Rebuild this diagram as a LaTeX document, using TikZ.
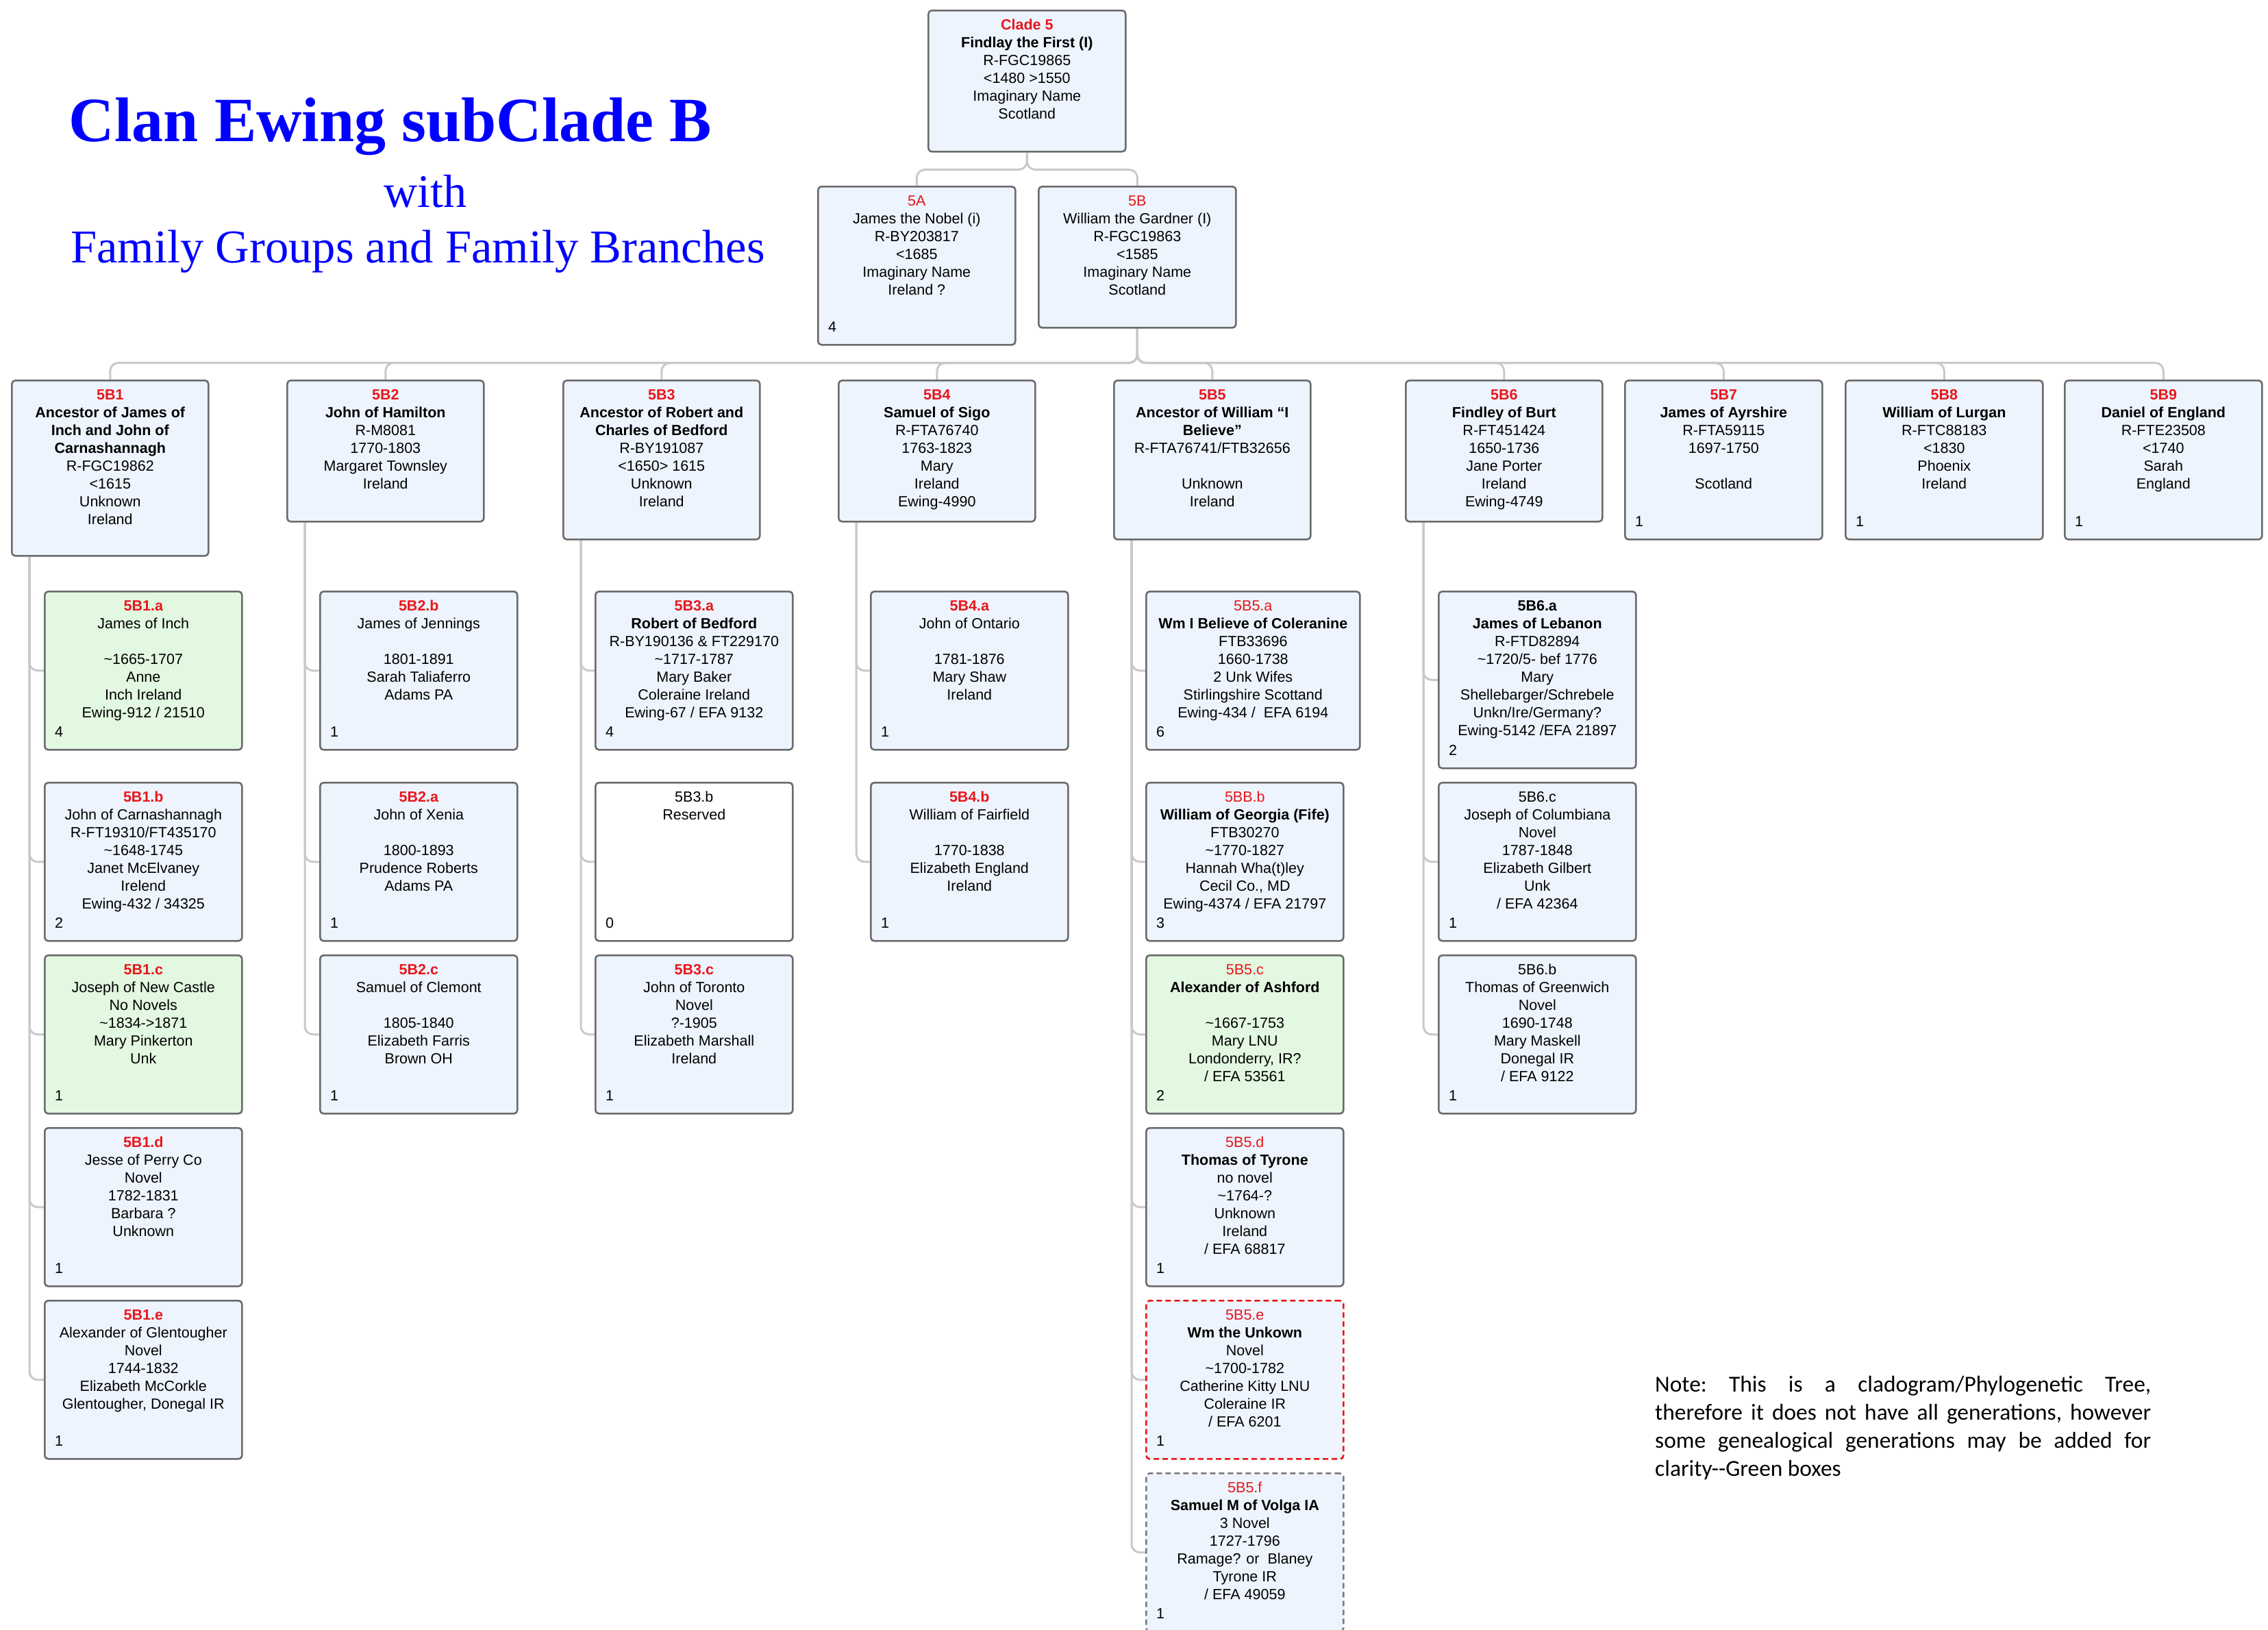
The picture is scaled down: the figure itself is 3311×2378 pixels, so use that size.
\documentclass[tikz,border=0pt]{standalone}
\usepackage{fontspec}
\setmainfont{Liberation Sans}
\newfontfamily\titlefont{Liberation Serif}
\newfontfamily\notefont{Carlito}
\pgfdeclarelayer{bg}
\pgfsetlayers{bg,main}
\definecolor{boxblue}{HTML}{EDF4FE}
\definecolor{boxgreen}{HTML}{E2F8E0}
\definecolor{bordergray}{HTML}{6B6B6B}
\definecolor{conngray}{HTML}{C9C9C9}
\definecolor{labelred}{HTML}{E8161B}
\definecolor{titleblue}{HTML}{0000FF}
\newcommand\bxfont{\fontsize{21.5}{26}\selectfont}
\newcommand\redb[1]{\textcolor{labelred}{\bfseries #1}}
\newcommand\redn[1]{\textcolor{labelred}{#1}}
\newcommand\tld{\textasciitilde}
\tikzset{
  bx/.style={draw=bordergray, line width=2.6pt, fill=boxblue, rounded corners=5pt, inner sep=0pt, anchor=north west},
  gbx/.style={bx, fill=boxgreen},
  wbx/.style={bx, fill=white},
  rdbx/.style={bx, draw=labelred, dash pattern=on 8pt off 5pt},
  gdbx/.style={bx, draw=bordergray!90, dash pattern=on 8pt off 5pt},
  txt/.style={anchor=north, align=center, inner sep=0pt, font=\bxfont},
  cnt/.style={anchor=base west, inner sep=0pt, font=\bxfont},
  conn/.style={draw=conngray, line width=3pt, rounded corners=12pt},
  ttl/.style={anchor=base, inner sep=0pt, text=titleblue},
}
\newcommand\gbox[7]{%
  \node[#2, minimum width=#5pt, minimum height=#6pt] (#1) at (#3,#4) {};
  \node[txt] (#1-t) at ([yshift=-11.5pt]#1.north) {\strut #7};
}
\newcommand\cnum[2]{\node[cnt] (#1-n) at ([xshift=16pt,yshift=20pt]#1.south west) {#2};}
\begin{document}
\begin{tikzpicture}[x=1pt,y=-1pt]
\useasboundingbox (0,0) rectangle (3311,2378);
\clip (0,0) rectangle (3311,2378);

% title
\node[ttl, font=\titlefont\bfseries\fontsize{92}{110}\selectfont] (title) at (570,206) {Clan Ewing subClade B};
\node[ttl, font=\titlefont\fontsize{68}{80}\selectfont] (with) at (621,302) {with};
\node[ttl, font=\titlefont\fontsize{68.6}{80}\selectfont] (sub) at (610,383) {Family Groups and Family Branches};

% top
\gbox{c5}{bx}{1354}{14}{288}{206}{\redb{Clade 5}\\ \textbf{Findlay the First (I)}\\ R-FGC19865\\ <1480 >1550\\ Imaginary Name\\ Scotland}
\gbox{a5}{bx}{1193}{271}{288}{231}{\redn{5A}\\ James the Nobel (i)\\ R-BY203817\\ <1685\\ Imaginary Name\\ Ireland ?}
\cnum{a5}{4}
\gbox{b5}{bx}{1515}{271}{288}{206}{\redn{5B}\\ William the Gardner (I)\\ R-FGC19863\\ <1585\\ Imaginary Name\\ Scotland}

% row 2
\gbox{r1}{bx}{16}{554}{287}{256}{\redb{5B1}\\ \textbf{Ancestor of James of}\\ \textbf{Inch and John of}\\ \textbf{Carnashannagh}\\ R-FGC19862\\ <1615\\ Unknown\\ Ireland}
\gbox{r2}{bx}{418}{554}{287}{206}{\redb{5B2}\\ \textbf{John of Hamilton}\\ R-M8081\\ 1770-1803\\ Margaret Townsley\\ Ireland}
\gbox{r3}{bx}{821}{554}{287}{232}{\redb{5B3}\\ \textbf{Ancestor of Robert and}\\ \textbf{Charles of Bedford}\\ R-BY191087\\ <1650> 1615\\ Unknown\\ Ireland}
\gbox{r4}{bx}{1223}{554}{287}{206}{\redb{5B4}\\ \textbf{Samuel of Sigo}\\ R-FTA76740\\ 1763-1823\\ Mary\\ Ireland\\ Ewing-4990}
\gbox{r5}{bx}{1625}{554}{287}{232}{\redb{5B5}\\ \textbf{Ancestor of William “I}\\ \textbf{Believe”}\\ R-FTA76741/FTB32656\\ \mbox{}\\ Unknown\\ Ireland}
\gbox{r6}{bx}{2051}{554}{287}{206}{\redb{5B6}\\ \textbf{Findley of Burt}\\ R-FT451424\\ 1650-1736\\ Jane Porter\\ Ireland\\ Ewing-4749}
\gbox{r7}{bx}{2371}{554}{288}{232}{\redb{5B7}\\ \textbf{James of Ayrshire}\\ R-FTA59115\\ 1697-1750\\ \mbox{}\\ Scotland}
\cnum{r7}{1}
\gbox{r8}{bx}{2693}{554}{288}{232}{\redb{5B8}\\ \textbf{William of Lurgan}\\ R-FTC88183\\ <1830\\ Phoenix\\ Ireland}
\cnum{r8}{1}
\gbox{r9}{bx}{3013}{554}{288}{232}{\redb{5B9}\\ \textbf{Daniel of England}\\ R-FTE23508\\ <1740\\ Sarah\\ England}
\cnum{r9}{1}

% column 1
\gbox{r1a}{gbx}{64}{862}{288}{231}{\redb{5B1.a}\\ James of Inch\\ \mbox{}\\ \tld1665-1707\\ Anne\\ Inch Ireland\\ Ewing-912 / 21510}
\cnum{r1a}{4}
\gbox{r1b}{bx}{64}{1141}{288}{231}{\redb{5B1.b}\\ John of Carnashannagh\\ R-FT19310/FT435170\\ \tld1648-1745\\ Janet McElvaney\\ Irelend\\ Ewing-432 / 34325}
\cnum{r1b}{2}
\gbox{r1c}{gbx}{64}{1393}{288}{231}{\redb{5B1.c}\\ Joseph of New Castle\\ No Novels\\ \tld1834->1871\\ Mary Pinkerton\\ Unk}
\cnum{r1c}{1}
\gbox{r1d}{bx}{64}{1645}{288}{231}{\redb{5B1.d}\\ Jesse of Perry Co\\ Novel\\ 1782-1831\\ Barbara ?\\ Unknown}
\cnum{r1d}{1}
\gbox{r1e}{bx}{64}{1897}{288}{231}{\redb{5B1.e}\\ Alexander of Glentougher\\ Novel\\ 1744-1832\\ Elizabeth McCorkle\\ Glentougher, Donegal IR}
\cnum{r1e}{1}

% column 2
\gbox{r2b}{bx}{466}{862}{288}{231}{\redb{5B2.b}\\ James of Jennings\\ \mbox{}\\ 1801-1891\\ Sarah Taliaferro\\ Adams PA}
\cnum{r2b}{1}
\gbox{r2a}{bx}{466}{1141}{288}{231}{\redb{5B2.a}\\ John of Xenia\\ \mbox{}\\ 1800-1893\\ Prudence Roberts\\ Adams PA}
\cnum{r2a}{1}
\gbox{r2c}{bx}{466}{1393}{288}{231}{\redb{5B2.c}\\ Samuel of Clemont\\ \mbox{}\\ 1805-1840\\ Elizabeth Farris\\ Brown OH}
\cnum{r2c}{1}

% column 3
\gbox{r3a}{bx}{868}{862}{288}{231}{\redb{5B3.a}\\ \textbf{Robert of Bedford}\\ R-BY190136 \& FT229170\\ \tld1717-1787\\ Mary Baker\\ Coleraine Ireland\\ Ewing-67 / EFA 9132}
\cnum{r3a}{4}
\gbox{r3b}{wbx}{868}{1141}{288}{231}{5B3.b\\ Reserved}
\cnum{r3b}{0}
\gbox{r3c}{bx}{868}{1393}{288}{231}{\redb{5B3.c}\\ John of Toronto\\ Novel\\ ?-1905\\ Elizabeth Marshall\\ Ireland}
\cnum{r3c}{1}

% column 4
\gbox{r4a}{bx}{1270}{862}{288}{231}{\redb{5B4.a}\\ John of Ontario\\ \mbox{}\\ 1781-1876\\ Mary Shaw\\ Ireland}
\cnum{r4a}{1}
\gbox{r4b}{bx}{1270}{1141}{288}{231}{\redb{5B4.b}\\ William of Fairfield\\ \mbox{}\\ 1770-1838\\ Elizabeth England\\ Ireland}
\cnum{r4b}{1}

% column 5
\gbox{r5a}{bx}{1672}{862}{312}{231}{\redn{5B5.a}\\ \textbf{Wm I Believe of Coleranine}\\ FTB33696\\ 1660-1738\\ 2 Unk Wifes\\ Stirlingshire Scottand\\ Ewing-434 /\ \ EFA 6194}
\cnum{r5a}{6}
\gbox{r5b}{bx}{1672}{1141}{288}{231}{\redn{5BB.b}\\ \textbf{William of Georgia (Fife)}\\ FTB30270\\ \tld1770-1827\\ Hannah Wha(t)ley\\ Cecil Co., MD\\ Ewing-4374 / EFA 21797}
\cnum{r5b}{3}
\gbox{r5c}{gbx}{1672}{1393}{288}{231}{\redn{5B5.c}\\ \textbf{Alexander of Ashford}\\ \mbox{}\\ \tld1667-1753\\ Mary LNU\\ Londonderry, IR?\\ / EFA 53561}
\cnum{r5c}{2}
\gbox{r5d}{bx}{1672}{1645}{288}{231}{\redn{5B5.d}\\ \textbf{Thomas of Tyrone}\\ no novel\\ \tld1764-?\\ Unknown\\ Ireland\\ / EFA 68817}
\cnum{r5d}{1}
\gbox{r5e}{rdbx}{1672}{1897}{288}{231}{\redn{5B5.e}\\ \textbf{Wm the Unkown}\\ Novel\\ \tld1700-1782\\ Catherine Kitty LNU\\ Coleraine IR\\ / EFA 6201}
\cnum{r5e}{1}
\gbox{r5f}{gdbx}{1672}{2149}{288}{231}{\redn{5B5.f}\\ \textbf{Samuel M of Volga IA}\\ 3 Novel\\ 1727-1796\\ Ramage? or\ \ Blaney\\ Tyrone IR\\ / EFA 49059}
\cnum{r5f}{1}

% column 6
\gbox{r6a}{bx}{2099}{862}{288}{258}{\textbf{5B6.a}\\ \textbf{James of Lebanon}\\ R-FTD82894\\ \tld1720/5- bef 1776\\ Mary\\ Shellebarger/Schrebele\\ Unkn/Ire/Germany?\\ Ewing-5142 /EFA 21897}
\cnum{r6a}{2}
\gbox{r6c}{bx}{2099}{1141}{288}{231}{5B6.c\\ Joseph of Columbiana\\ Novel\\ 1787-1848\\ Elizabeth Gilbert\\ Unk\\ / EFA 42364}
\cnum{r6c}{1}
\gbox{r6b}{bx}{2099}{1393}{288}{231}{5B6.b\\ Thomas of Greenwich\\ Novel\\ 1690-1748\\ Mary Maskell\\ Donegal IR\\ / EFA 9122}
\cnum{r6b}{1}

% note
\node[anchor=north west, text width=724pt, align=justify, inner sep=0pt,
      font=\notefont\fontsize{33.4}{41}\selectfont] (note) at (2416,2003)
  {\frenchspacing\hyphenpenalty=10000\strut Note: This is a cladogram/Phylogenetic Tree,\linebreak therefore it does not have all generations, however\linebreak some genealogical generations may be added for\linebreak clarity-{}-Green boxes};

% connectors
\begin{pgfonlayer}{bg}
\fill[white] (0,0) rectangle (3311,2378);
\draw[conn] (c5.south) -- ++(0,25) -| (a5.north);
\draw[conn] (c5.south) -- ++(0,25) -| (b5.north);
\foreach \r in {r1,r2,r3,r4,r5,r6,r7,r8,r9}
  \draw[conn] (b5.south) -- ++(0,50) -| (\r.north);
\foreach \p/\c in {r1/r1a,r1/r1b,r1/r1c,r1/r1d,r1/r1e,
                   r2/r2b,r2/r2a,r2/r2c,
                   r3/r3a,r3/r3b,r3/r3c,
                   r4/r4a,r4/r4b,
                   r5/r5a,r5/r5b,r5/r5c,r5/r5d,r5/r5e,r5/r5f,
                   r6/r6a,r6/r6c,r6/r6b}
  \draw[conn] ([xshift=27pt]\p.south west) |- (\c.west);
\end{pgfonlayer}
\end{tikzpicture}
\end{document}
